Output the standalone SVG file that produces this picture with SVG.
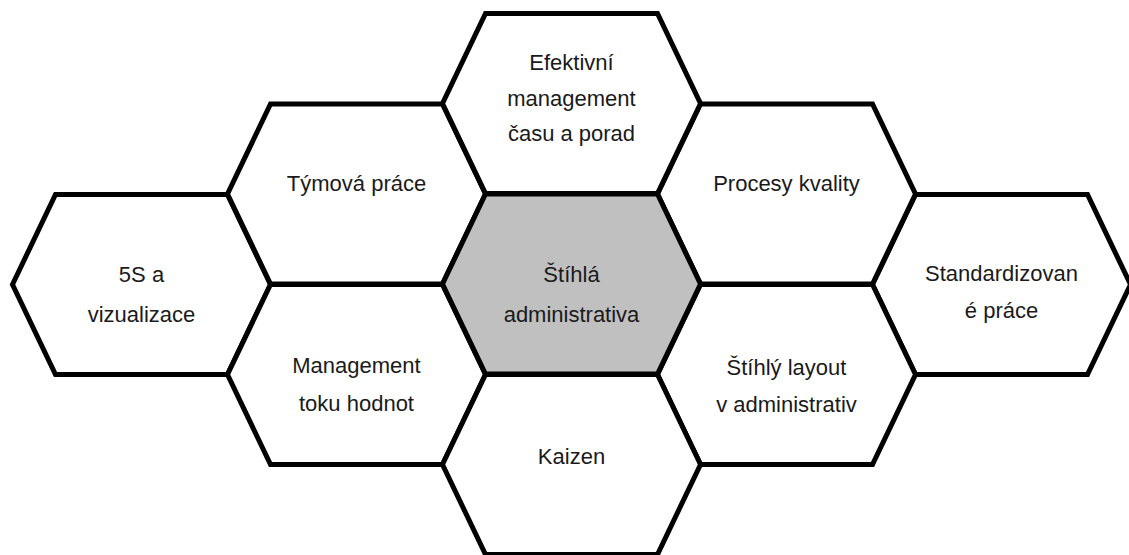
<svg xmlns="http://www.w3.org/2000/svg" xmlns:xlink="http://www.w3.org/1999/xlink" width="1129" height="555" viewBox="0 0 1129 555">
  <style>
    .hex { fill: #ffffff; stroke: #000000; stroke-width: 5; stroke-linejoin: miter; }
    .hex.core { fill: #c0c0c0; }
    .lbl { font-family: "Liberation Sans", Arial, sans-serif; font-size: 22px; fill: #1a1a1a; text-anchor: middle; }
  </style>
  <defs>
    <!-- flat-topped hexagon centred on the origin -->
    <path id="hexShape" d="M -86,-90 L 86,-90 L 129,0 L 86,90 L -86,90 L -129,0 Z"/>
  </defs>
  <rect x="0" y="0" width="1129" height="555" fill="#ffffff"/>

  <!-- honeycomb has no separate connectors; the shared edges join the cells -->
  <g id="connectors"></g>

  <g id="node-5s">
    <use xlink:href="#hexShape" class="hex" transform="translate(141.5,284.5)"/>
    <text class="lbl" x="141.5" y="282">5S a</text>
    <text class="lbl" x="141.5" y="322">vizualizace</text>
  </g>

  <g id="node-standard">
    <use xlink:href="#hexShape" class="hex" transform="translate(1001.5,284.5)"/>
    <text class="lbl" x="1001.5" y="281">Standardizovan</text>
    <text class="lbl" x="1001.5" y="318">é práce</text>
  </g>

  <g id="node-tym">
    <use xlink:href="#hexShape" class="hex" transform="translate(356.5,194)"/>
    <text class="lbl" x="356.5" y="191">Týmová práce</text>
  </g>

  <g id="node-vsm">
    <use xlink:href="#hexShape" class="hex" transform="translate(356.5,374.5)"/>
    <text class="lbl" x="356.5" y="373">Management</text>
    <text class="lbl" x="356.5" y="411">toku hodnot</text>
  </g>

  <g id="node-kvalita">
    <use xlink:href="#hexShape" class="hex" transform="translate(786.5,194)"/>
    <text class="lbl" x="786.5" y="191">Procesy kvality</text>
  </g>

  <g id="node-layout">
    <use xlink:href="#hexShape" class="hex" transform="translate(786.5,374.5)"/>
    <text class="lbl" x="786.5" y="375">Štíhlý layout</text>
    <text class="lbl" x="786.5" y="412">v administrativ</text>
  </g>

  <g id="node-cas">
    <use xlink:href="#hexShape" class="hex" transform="translate(571.5,103.5)"/>
    <text class="lbl" x="571.5" y="70">Efektivní</text>
    <text class="lbl" x="571.5" y="105.5">management</text>
    <text class="lbl" x="571.5" y="141">času a porad</text>
  </g>

  <g id="node-kaizen">
    <use xlink:href="#hexShape" class="hex" transform="translate(571.5,464.5)"/>
    <text class="lbl" x="571.5" y="464">Kaizen</text>
  </g>

  <g id="node-core">
    <use xlink:href="#hexShape" class="hex core" transform="translate(571.5,284)"/>
    <text class="lbl" x="571.5" y="282">Štíhlá</text>
    <text class="lbl" x="571.5" y="322">administrativa</text>
  </g>
</svg>
